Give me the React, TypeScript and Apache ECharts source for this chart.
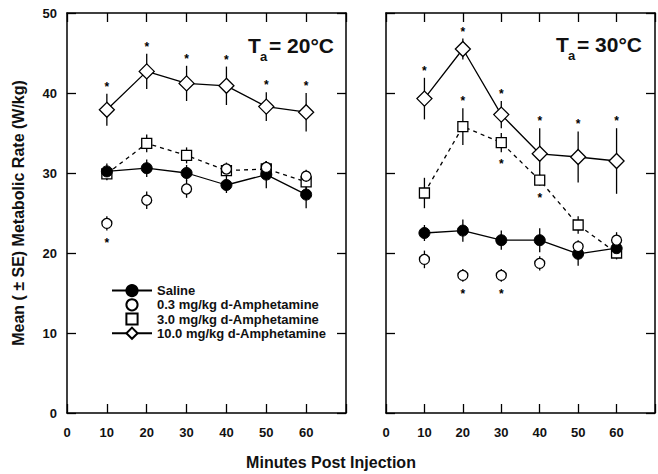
import React, { useEffect, useRef } from "react";
import * as echarts from "echarts";

const minutes = [10, 20, 30, 40, 50, 60];
const xTicks = [0, 10, 20, 30, 40, 50, 60];

// Ta = 20 °C
const saline20 = [30.2, 30.6, 30.0, 28.5, 29.8, 27.3];
const saline20Err = [1.0, 1.1, 1.0, 1.0, 1.7, 1.7];
const amph03_20 = [23.7, 26.6, 28.0, 30.5, 30.7, 29.6];
const amph03_20Err = [0.9, 1.1, 1.1, 0.8, 0.8, 0.8];
const amph3_20 = [29.9, 33.7, 32.2, 30.3, 30.5, 28.9];
const amph3_20Err = [0.8, 1.1, 1.0, 0.8, 1.0, 1.0];
const amph10_20 = [37.9, 42.7, 41.2, 40.9, 38.3, 37.6];
const amph10_20Err = [2.0, 2.2, 2.2, 2.4, 1.8, 2.4];

// Ta = 30 °C
const saline30 = [22.5, 22.8, 21.6, 21.6, 19.9, 20.6];
const saline30Err = [1.0, 1.4, 1.2, 1.5, 1.5, 1.2];
const amph03_30 = [19.2, 17.2, 17.2, 18.7, 20.8, 21.6];
const amph03_30Err = [1.1, 0.8, 0.8, 0.9, 0.8, 1.0];
const amph3_30 = [27.5, 35.8, 33.8, 29.1, 23.5, 20.0];
const amph3_30Err = [1.9, 2.3, 1.2, 0.7, 1.1, 0.8];
const amph10_30 = [39.3, 45.5, 37.3, 32.4, 32.0, 31.5];
const amph10_30Err = [2.6, 1.3, 1.7, 3.2, 3.2, 4.1];

// significance stars: 1 = above bar, -1 = below bar, 0 = none
const noStars = [0, 0, 0, 0, 0, 0];
const stars03_20 = [-1, 0, 0, 0, 0, 0];
const stars10_20 = [1, 1, 1, 1, 1, 1];
const stars03_30 = [0, -1, -1, 0, 0, 0];
const stars3_30 = [0, 1, -1, -1, 0, 0];
const stars10_30 = [1, 1, 1, 1, 1, 1];

const NAME_SAL = "Saline";
const NAME_03 = "0.3 mg/kg d-Amphetamine";
const NAME_3 = "3.0 mg/kg d-Amphetamine";
const NAME_10 = "10.0 mg/kg d-Amphetamine";

const FONT = "'Liberation Sans', Arial, Helvetica, sans-serif";

function errSeries(vals: number[], errs: number[], stars: number[], axis: number) {
  return {
    type: "custom",
    xAxisIndex: axis,
    yAxisIndex: axis,
    z: 1,
    encode: { x: 0, y: [1, 2] },
    data: minutes.map((m, i) => [m, vals[i] - errs[i], vals[i] + errs[i], stars[i]]),
    renderItem: (params: any, api: any) => {
      const x = api.value(0);
      const lo = api.coord([x, api.value(1)]);
      const hi = api.coord([x, api.value(2)]);
      const star = api.value(3);
      const children: any[] = [
        {
          type: "line",
          shape: { x1: lo[0], y1: lo[1], x2: hi[0], y2: hi[1] },
          style: { stroke: "#000", lineWidth: 1.3 },
        },
      ];
      if (star !== 0) {
        children.push({
          type: "text",
          x: hi[0],
          y: star > 0 ? hi[1] - 7 : lo[1] + 12,
          style: {
            text: "*",
            fontSize: 12,
            fontWeight: "bold",
            fontFamily: FONT,
            fill: "#000",
            align: "center",
            verticalAlign: "middle",
          },
        });
      }
      return { type: "group", children };
    },
  };
}

function lineSeries(name: string, vals: number[], axis: number, kind: string) {
  const base: any = {
    name,
    type: "line",
    xAxisIndex: axis,
    yAxisIndex: axis,
    z: 3,
    showSymbol: true,
    showAllSymbol: true,
    data: minutes.map((m, i) => [m, vals[i]]),
    lineStyle: { color: "#000", width: 1.3 },
    itemStyle: { color: "#fff", borderColor: "#000", borderWidth: 1.3 },
  };
  if (kind === "sal") {
    base.symbol = "circle";
    base.symbolSize = 11;
    base.itemStyle = { color: "#000", borderColor: "#000", borderWidth: 1 };
  } else if (kind === "03") {
    base.symbol = "circle";
    base.symbolSize = 10;
    base.lineStyle = { color: "#000", width: 1.3, opacity: 0 };
  } else if (kind === "3") {
    base.symbol = "rect";
    base.symbolSize = 10;
    base.lineStyle = { color: "#000", width: 1.3, type: [4, 4] };
  } else {
    base.symbol = "diamond";
    base.symbolSize = 15;
  }
  return base;
}

function xAx(grid: number, pos: string, labels: boolean) {
  return {
    type: "value",
    gridIndex: grid,
    position: pos,
    min: 0,
    max: 70,
    interval: 10,
    axisLine: { show: true, onZero: false, lineStyle: { color: "#000", width: 1.5 } },
    axisTick: { show: true, inside: true, length: 9, lineStyle: { color: "#000", width: 1.3 } },
    axisLabel: {
      show: labels,
      margin: 13,
      fontSize: 13,
      fontWeight: "bold",
      fontFamily: FONT,
      color: "#111",
      formatter: (v: number) => (xTicks.indexOf(v) >= 0 ? String(v) : ""),
    },
    splitLine: { show: false },
  };
}

function yAx(grid: number, pos: string, labels: boolean) {
  return {
    type: "value",
    gridIndex: grid,
    position: pos,
    min: 0,
    max: 50,
    interval: 10,
    axisLine: { show: true, onZero: false, lineStyle: { color: "#000", width: 1.5 } },
    axisTick: { show: true, inside: true, length: 9, lineStyle: { color: "#000", width: 1.3 } },
    axisLabel: {
      show: labels,
      margin: 10,
      fontSize: 13,
      fontWeight: "bold",
      fontFamily: FONT,
      color: "#111",
    },
    splitLine: { show: false },
  };
}

function titleTexts(x: number, y: number, temp: string) {
  const st = { fontFamily: FONT, fontWeight: "bold", fill: "#111", verticalAlign: "middle", align: "left" };
  return [
    { type: "text", x, y, style: { ...st, text: "T", fontSize: 21 } },
    { type: "text", x: x + 12, y: y + 11, style: { ...st, text: "a", fontSize: 13 } },
    { type: "text", x: x + 21, y, style: { ...st, text: "= " + temp + "°C", fontSize: 21 } },
  ];
}

export default function App() {
  const ref = useRef<HTMLDivElement>(null);
  useEffect(() => {
    if (!ref.current) return;
    const chart = echarts.init(ref.current, undefined, { renderer: "svg" });
    const option: any = {
      animation: false,
      backgroundColor: "#fff",
      grid: [
        { left: 67, top: 13, width: 279, height: 400 },
        { left: 386, top: 13, width: 280, height: 400 },
      ],
      xAxis: [xAx(0, "bottom", true), xAx(0, "top", false), xAx(1, "bottom", true), xAx(1, "top", false)],
      yAxis: [yAx(0, "left", true), yAx(0, "right", false), yAx(1, "left", false), yAx(1, "right", false)],
      legend: {
        orient: "vertical",
        left: 106,
        top: 279,
        itemWidth: 40,
        itemHeight: 14,
        itemGap: 1,
        selectedMode: false,
        textStyle: { fontSize: 13, fontWeight: "bold", fontFamily: FONT, color: "#111" },
        data: [
          { name: NAME_SAL },
          { name: NAME_03 },
          { name: NAME_3, lineStyle: { opacity: 0 } },
          { name: NAME_10 },
        ],
      },
      series: [
        errSeries(saline20, saline20Err, noStars, 0),
        errSeries(amph03_20, amph03_20Err, stars03_20, 0),
        errSeries(amph3_20, amph3_20Err, noStars, 0),
        errSeries(amph10_20, amph10_20Err, stars10_20, 0),
        errSeries(saline30, saline30Err, noStars, 2),
        errSeries(amph03_30, amph03_30Err, stars03_30, 2),
        errSeries(amph3_30, amph3_30Err, stars3_30, 2),
        errSeries(amph10_30, amph10_30Err, stars10_30, 2),
        lineSeries(NAME_3, amph3_20, 0, "3"),
        lineSeries(NAME_SAL, saline20, 0, "sal"),
        lineSeries(NAME_03, amph03_20, 0, "03"),
        lineSeries(NAME_10, amph10_20, 0, "10"),
        lineSeries(NAME_3, amph3_30, 2, "3"),
        lineSeries(NAME_SAL, saline30, 2, "sal"),
        lineSeries(NAME_03, amph03_30, 2, "03"),
        lineSeries(NAME_10, amph10_30, 2, "10"),
      ],
      graphic: [
        ...titleTexts(248, 45, "20"),
        ...titleTexts(556, 44, "30"),
        {
          type: "text",
          x: 18,
          y: 213,
          rotation: Math.PI / 2,
          style: {
            text: "Mean ( ± SE) Metabolic Rate (W/kg)",
            fontSize: 16,
            fontWeight: "bold",
            fontFamily: FONT,
            fill: "#111",
            align: "center",
            verticalAlign: "middle",
          },
        },
        {
          type: "text",
          x: 331,
          y: 462,
          style: {
            text: "Minutes Post Injection",
            fontSize: 16,
            fontWeight: "bold",
            fontFamily: FONT,
            fill: "#111",
            align: "center",
            verticalAlign: "middle",
          },
        },
      ],
    };
    chart.setOption(option);
    return () => chart.dispose();
  }, []);
  return (
    <div
      ref={ref}
      style={{ position: "fixed", left: 0, top: 0, width: 658, height: 474, background: "#fff" }}
    />
  );
}
